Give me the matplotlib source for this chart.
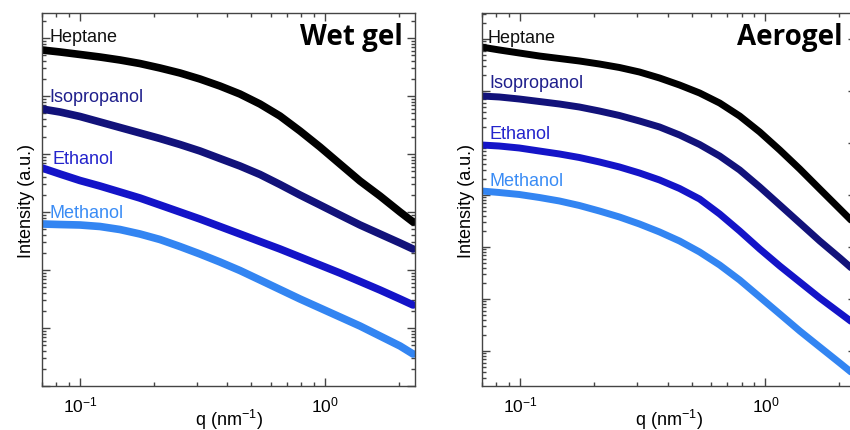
import numpy as np
from matplotlib import pyplot as plt
from matplotlib.ticker import LogLocator, NullFormatter

# scattering vector q (nm^-1) at the points
q_wet = [0.0700, 0.0829, 0.100, 0.1207, 0.1456, 0.1757, 0.2120, 0.2559, 0.3088, 0.3727,
         0.4498, 0.5429, 0.6551, 0.7907, 0.9541, 1.151, 1.390, 1.677, 2.024, 2.287]
q_aero = [0.0695, 0.0823, 0.0993, 0.1199, 0.1447, 0.1746, 0.2107, 0.2542, 0.3068, 0.3703,
          0.4468, 0.5392, 0.6508, 0.7853, 0.9478, 1.144, 1.380, 1.665, 2.010, 2.337]

# log10 of intensity (a.u.), wet gel
wet_heptane = [5.793, 5.759, 5.716, 5.672, 5.621, 5.560, 5.483, 5.397, 5.293, 5.172,
               5.034, 4.862, 4.655, 4.397, 4.121, 3.828, 3.534, 3.276, 3.000, 2.828]
wet_isopropanol = [4.776, 4.724, 4.647, 4.552, 4.457, 4.362, 4.267, 4.164, 4.052, 3.922,
                   3.793, 3.647, 3.474, 3.293, 3.121, 2.948, 2.776, 2.621, 2.466, 2.362]
wet_ethanol = [3.759, 3.655, 3.543, 3.448, 3.345, 3.241, 3.121, 3.000, 2.879, 2.750,
               2.621, 2.491, 2.362, 2.224, 2.086, 1.948, 1.802, 1.655, 1.500, 1.397]
wet_methanol = [2.793, 2.784, 2.776, 2.750, 2.698, 2.621, 2.526, 2.405, 2.276, 2.138,
                1.991, 1.828, 1.664, 1.500, 1.345, 1.190, 1.034, 0.862, 0.690, 0.552]

# log10 of intensity (a.u.), aerogel
aero_heptane = [5.846, 5.789, 5.731, 5.673, 5.625, 5.577, 5.519, 5.452, 5.365, 5.250,
                5.115, 4.962, 4.769, 4.519, 4.212, 3.865, 3.500, 3.115, 2.731, 2.423]
aero_isopropanol = [4.904, 4.885, 4.846, 4.798, 4.750, 4.692, 4.615, 4.529, 4.423, 4.308,
                    4.154, 3.971, 3.750, 3.481, 3.154, 2.808, 2.462, 2.115, 1.789, 1.519]
aero_ethanol = [3.962, 3.942, 3.904, 3.846, 3.789, 3.721, 3.635, 3.539, 3.423, 3.289,
                3.125, 2.923, 2.635, 2.308, 1.962, 1.635, 1.327, 1.019, 0.731, 0.500]
aero_methanol = [3.077, 3.048, 3.010, 2.952, 2.885, 2.798, 2.692, 2.577, 2.442, 2.289,
                 2.115, 1.904, 1.654, 1.365, 1.039, 0.712, 0.385, 0.077, -0.231, -0.481]

solvents = ['Heptane', 'Isopropanol', 'Ethanol', 'Methanol']
colors = ['#000000', '#12127a', '#1414c8', '#3385f2']
text_colors = ['#111111', '#1f1f8c', '#2323cc', '#3a8cf5']

plt.rcParams['font.family'] = ['Liberation Sans', 'DejaVu Sans']
plt.rcParams['mathtext.fontset'] = 'custom'
plt.rcParams['mathtext.rm'] = 'Liberation Sans'
plt.rcParams['mathtext.it'] = 'Liberation Sans:italic'

fig = plt.figure(figsize=(8.5, 4.31), dpi=100)
ax1 = fig.add_axes([42 / 850, 44 / 431, 373 / 850, 373 / 431])
ax2 = fig.add_axes([482 / 850, 44 / 431, 373.6 / 850, 373 / 431])

panels = [
    (ax1, q_wet, [wet_heptane, wet_isopropanol, wet_ethanol, wet_methanol], 'Wet gel', 5.5,
     (1.0, 10 ** 6.431), [(0.021, 0.925), (0.021, 0.764), (0.029, 0.598), (0.021, 0.453)], 0.968),
    (ax2, q_aero, [aero_heptane, aero_isopropanol, aero_ethanol, aero_methanol], 'Aerogel', 5,
     (10 ** -0.673, 10 ** 6.5), [(0.016, 0.921), (0.019, 0.802), (0.019, 0.665), (0.019, 0.539)], 0.966),
]

for ax, q, series, title, lw, ylim, label_pos, title_x in panels:
    for vals, c in zip(series, colors):
        ax.plot(q, np.power(10.0, vals), color=c, lw=lw, solid_capstyle='round', solid_joinstyle='round')
    ax.set_xscale('log')
    ax.set_yscale('log')
    ax.set_xlim(0.07, 2.33)
    ax.set_ylim(*ylim)

    for name, tc, (tx, ty) in zip(solvents, text_colors, label_pos):
        ax.text(tx, ty, name, color=tc, fontsize=13, transform=ax.transAxes, va='baseline', ha='left')
    ax.text(title_x, 0.938, title, fontsize=20, fontweight='bold', family=['Open Sans', 'DejaVu Sans'],
            transform=ax.transAxes, ha='right', va='center')

    ax.yaxis.set_major_locator(LogLocator(base=10, numticks=20))
    ax.yaxis.set_minor_locator(LogLocator(base=10, subs=np.arange(2, 10), numticks=20))
    ax.yaxis.set_major_formatter(NullFormatter())
    ax.yaxis.set_minor_formatter(NullFormatter())
    ax.set_xticks([0.1, 1])
    ax.set_xticklabels(['10$^{-1}$', '10$^{0}$'])
    ax.xaxis.set_minor_formatter(NullFormatter())
    ax.tick_params(which='both', direction='in', top=True, right=True, color='#444444', width=1)
    ax.tick_params(which='major', length=6, labelsize=12.5, pad=6)
    ax.tick_params(which='minor', length=3)
    for s in ax.spines.values():
        s.set_color('#444444')
        s.set_linewidth(1.0)

    ax.set_xlabel('q (nm$^{-1}$)', fontsize=13, labelpad=-5)
    ax.set_ylabel('Intensity (a.u.)', fontsize=13, labelpad=-1)

plt.savefig('out.png', dpi=100)
